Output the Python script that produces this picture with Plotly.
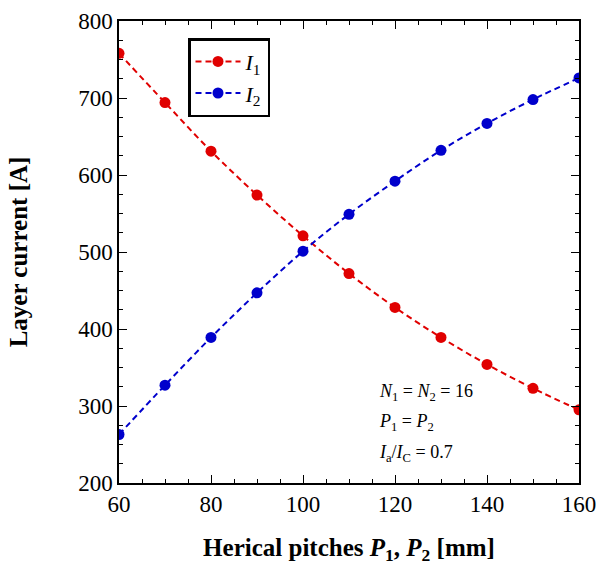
import plotly.graph_objects as go

pitch = [60, 70, 80, 90, 100, 110, 120, 130, 140, 150, 160]
I1 = [758, 694, 631, 574, 521, 472, 428, 389, 354, 323, 295]
I2 = [263, 327, 389, 447, 501, 549, 592, 632, 667, 698, 726]

FONT = "Liberation Serif, Times New Roman, serif"

fig = go.Figure()
fig.add_trace(go.Scatter(x=pitch, y=I1, mode="lines+markers", name="<i>I</i><sub>1</sub>",
                         line=dict(color="#e00000", dash="6px,4px", shape="spline", width=2),
                         marker=dict(color="#e00000", size=11)))
fig.add_trace(go.Scatter(x=pitch, y=I2, mode="lines+markers", name="<i>I</i><sub>2</sub>",
                         line=dict(color="#0000cc", dash="6px,4px", shape="spline", width=2),
                         marker=dict(color="#0000cc", size=11)))

axis_common = dict(showline=True, linecolor="black", linewidth=1.5, mirror="allticks",
                   ticks="inside", ticklen=8, tickwidth=1.2, tickcolor="black",
                   showgrid=False, zeroline=False, automargin=False,
                   ticklabeloverflow="allow",
                   tickfont=dict(family=FONT, size=23, color="black"))

fig.update_xaxes(range=[60, 160], dtick=20, tick0=60,
                 minor=dict(ticks="inside", dtick=5, ticklen=4, tickcolor="black", tickwidth=1),
                 title=dict(text="<b>Herical pitches <i>P</i><sub>1</sub>, <i>P</i><sub>2</sub> [mm]</b>",
                            font=dict(family=FONT, size=25, color="black"), standoff=22),
                 **axis_common)
fig.update_yaxes(range=[200, 800], dtick=100,
                 minor=dict(ticks="inside", dtick=25, ticklen=4, tickcolor="black", tickwidth=1),
                 title=dict(text="<b>Layer current [A]</b>",
                            font=dict(family=FONT, size=25, color="black"), standoff=43),
                 **axis_common)

notes = [
    "<i>N</i><sub>1</sub> = <i>N</i><sub>2</sub> = 16",
    "<i>P</i><sub>1</sub> = <i>P</i><sub>2</sub>",
    "<i>I</i><sub>a</sub>/<i>I</i><sub>C</sub> = 0.7",
]
note_y = [0.195, 0.132, 0.063]
for txt, yy in zip(notes, note_y):
    fig.add_annotation(xref="paper", yref="paper", x=0.56, y=yy, xanchor="left", yanchor="middle",
                       align="left", showarrow=False, text=txt,
                       font=dict(family=FONT, size=18, color="black"))

fig.update_layout(
    width=596, height=568,
    margin=dict(l=119, r=17, t=21, b=85),
    paper_bgcolor="white", plot_bgcolor="white",
    showlegend=True,
    legend=dict(x=0.15, y=0.963, xanchor="left", yanchor="top",
                bordercolor="black", borderwidth=2.5, bgcolor="white", itemwidth=45,
                font=dict(family=FONT, size=22, color="black"), tracegroupgap=0),
)

fig.write_html("out.html", config={"displayModeBar": False},
               post_script="document.body.style.margin='0';document.body.style.overflow='hidden';")
